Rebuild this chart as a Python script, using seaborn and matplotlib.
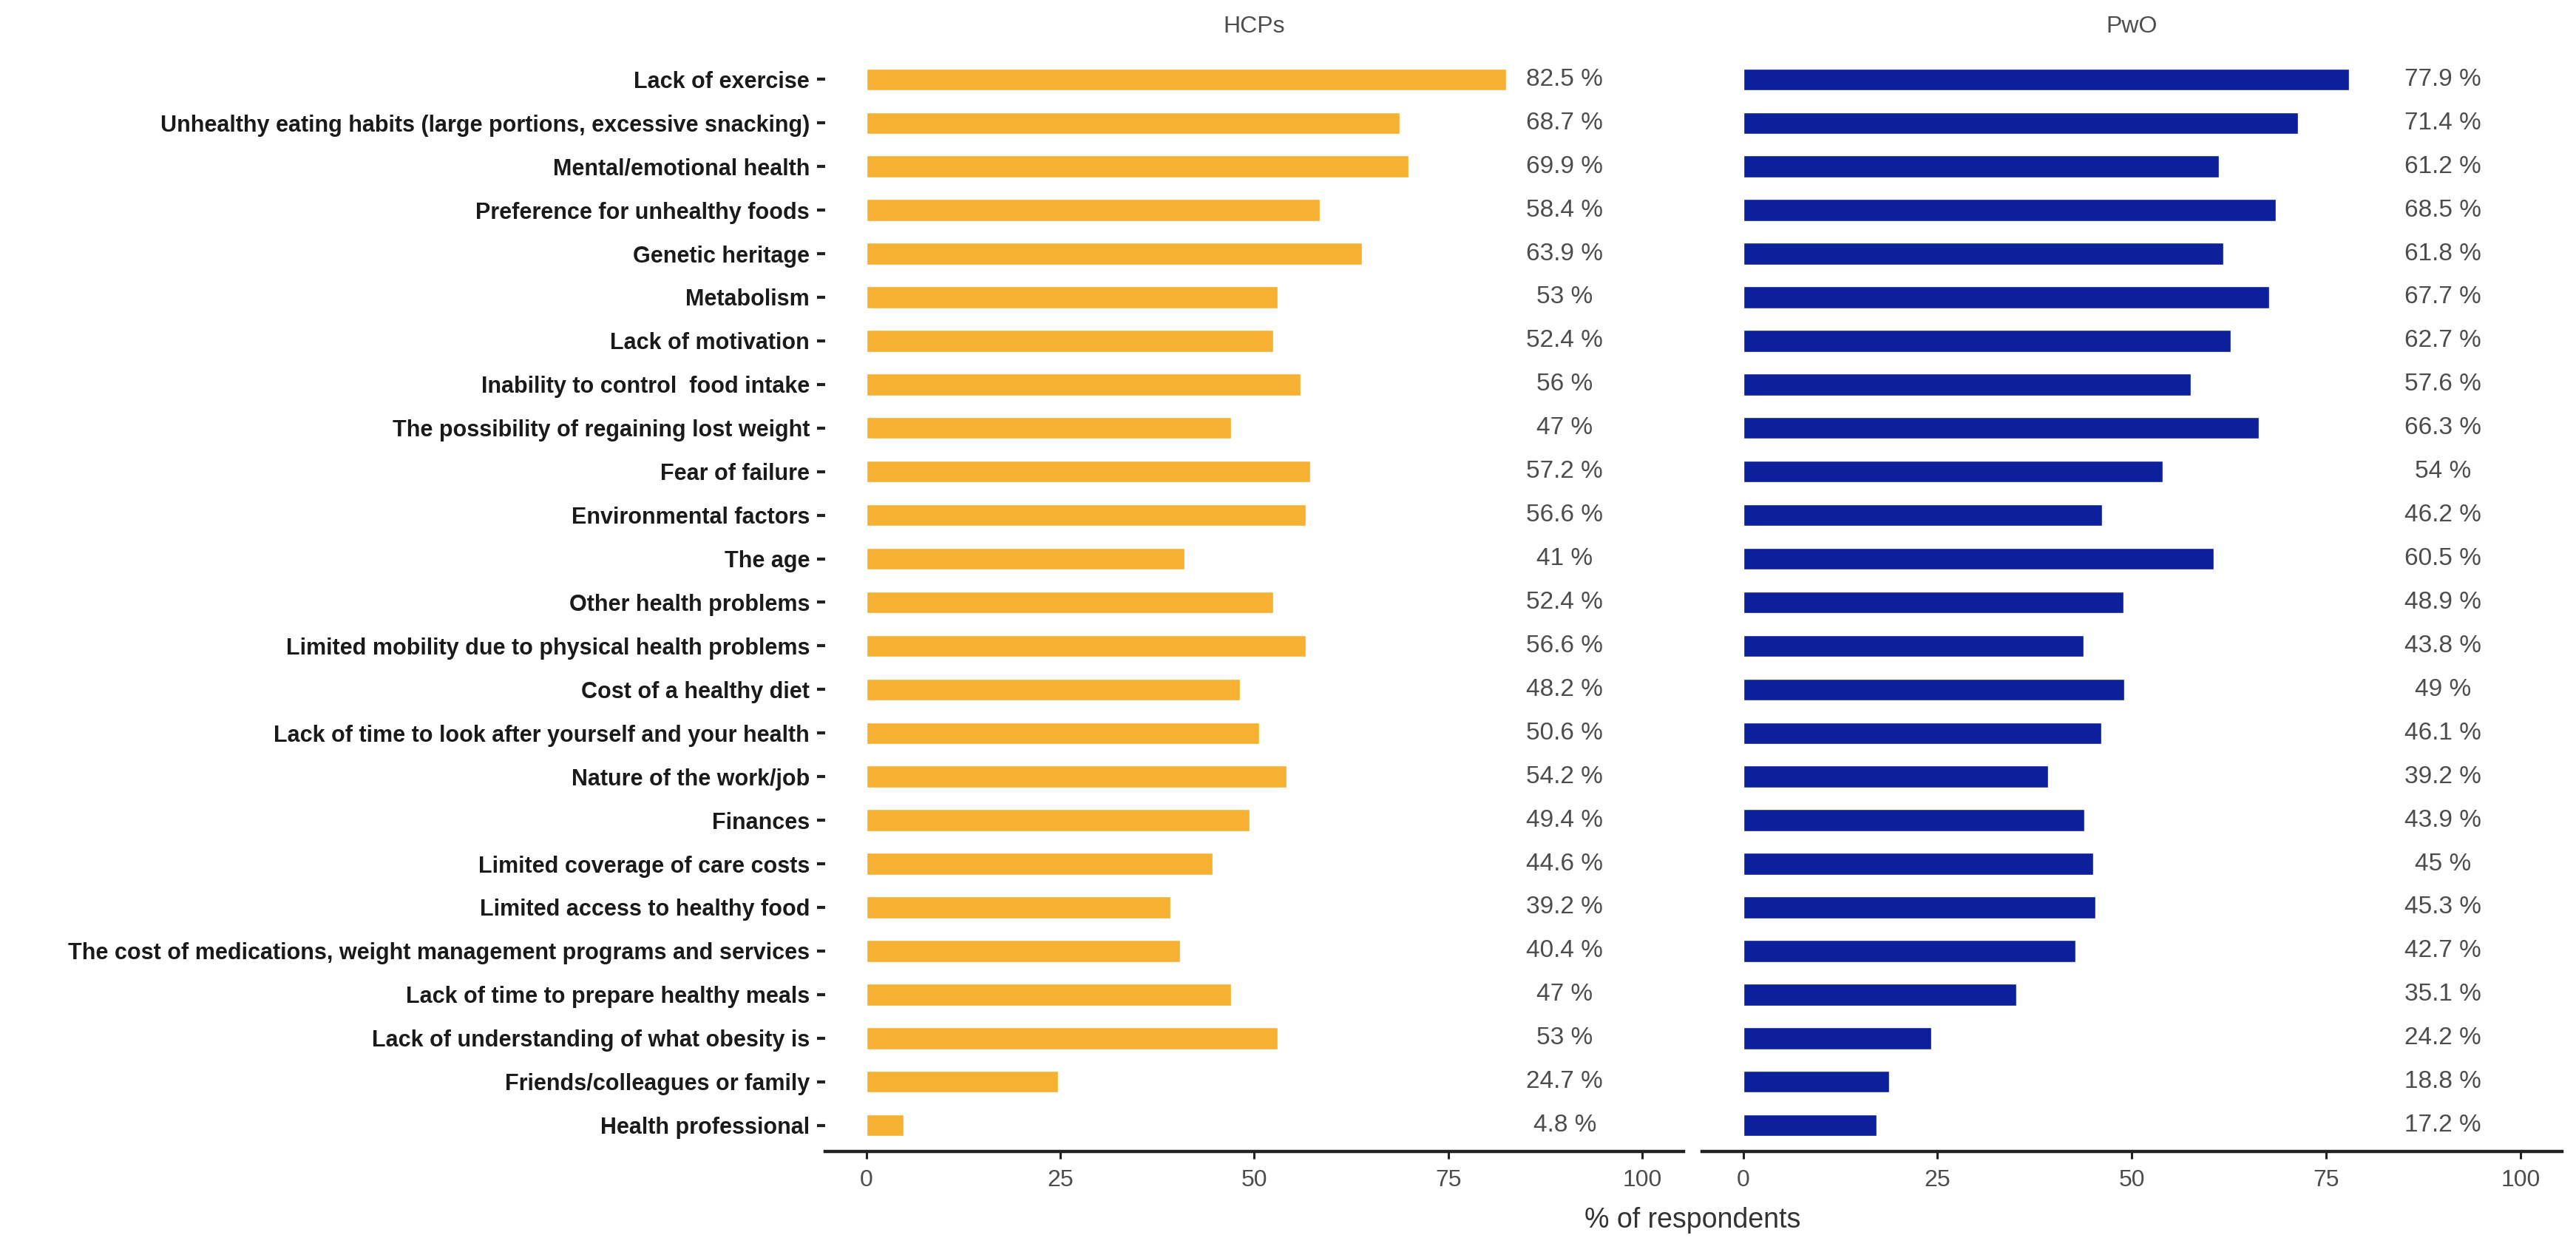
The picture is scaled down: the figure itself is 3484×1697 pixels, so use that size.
import matplotlib
matplotlib.use("Agg")
import matplotlib.pyplot as plt
from matplotlib import font_manager
import seaborn as sns
import pandas as pd

categories = [
    "Lack of exercise",
    "Unhealthy eating habits (large portions, excessive snacking)",
    "Mental/emotional health",
    "Preference for unhealthy foods",
    "Genetic heritage",
    "Metabolism",
    "Lack of motivation",
    "Inability to control  food intake",
    "The possibility of regaining lost weight",
    "Fear of failure",
    "Environmental factors",
    "The age",
    "Other health problems",
    "Limited mobility due to physical health problems",
    "Cost of a healthy diet",
    "Lack of time to look after yourself and your health",
    "Nature of the work/job",
    "Finances",
    "Limited coverage of care costs",
    "Limited access to healthy food",
    "The cost of medications, weight management programs and services",
    "Lack of time to prepare healthy meals",
    "Lack of understanding of what obesity is",
    "Friends/colleagues or family",
    "Health professional",
]
hcps = [82.5, 68.7, 69.9, 58.4, 63.9, 53, 52.4, 56, 47, 57.2, 56.6, 41, 52.4,
        56.6, 48.2, 50.6, 54.2, 49.4, 44.6, 39.2, 40.4, 47, 53, 24.7, 4.8]
pwo = [77.9, 71.4, 61.2, 68.5, 61.8, 67.7, 62.7, 57.6, 66.3, 54, 46.2, 60.5, 48.9,
       43.8, 49, 46.1, 39.2, 43.9, 45, 45.3, 42.7, 35.1, 24.2, 18.8, 17.2]
panel_titles = ["HCPs", "PwO"]
xticks = [0, 25, 50, 75, 100]
x_label = "% of respondents"

sns.set_theme(style="white")
names = {f.name for f in font_manager.fontManager.ttflist}
narrow = "Liberation Sans Narrow" if "Liberation Sans Narrow" in names else "Liberation Sans"
plt.rcParams["font.family"] = ["Liberation Sans", "DejaVu Sans"]

df = pd.DataFrame({"cat": categories, "HCPs": hcps, "PwO": pwo})

fig = plt.figure(figsize=(34.84, 16.97), dpi=100)
bottom, top = 0.0825, 0.9576
ax1 = fig.add_axes([0.3203, bottom, 0.6535 - 0.3203, top - bottom])
ax2 = fig.add_axes([0.6607, bottom, 0.9945 - 0.6607, top - bottom])

colors = ["#F6B132", "#0B209A"]
for ax, col, color, title in zip([ax1, ax2], ["HCPs", "PwO"], colors, panel_titles):
    sns.barplot(data=df, y="cat", x=col, ax=ax, color=color, width=0.5,
                orient="h", saturation=1)
    for i, v in enumerate(df[col]):
        ax.text(90, i, f"{v:g} %", ha="center", va="center", fontsize=24,
                color="#4D4D4D", family=[narrow, "DejaVu Sans"])
    ax.set_xlim(-5.3, 105.3)
    ax.set_ylim(len(categories) - 0.4, -0.6)
    ax.set_xticks(xticks)
    ax.set_xticklabels([str(t) for t in xticks], fontsize=23, color="#4D4D4D",
                       family=[narrow, "DejaVu Sans"])
    ax.set_xlabel("")
    ax.set_ylabel("")
    for s in ["top", "right", "left"]:
        ax.spines[s].set_visible(False)
    ax.spines["bottom"].set_linewidth(3.2)
    ax.spines["bottom"].set_color("#222222")
    ax.tick_params(axis="x", bottom=True, length=7, width=2.2, color="#222222", pad=10)
    ax.set_title(title, fontsize=23, color="#4D4D4D", pad=20,
                 family=[narrow, "DejaVu Sans"])

ax1.tick_params(axis="y", left=True, length=8, width=3, color="#222222", pad=7)
for lab in ax1.get_yticklabels():
    lab.set_fontsize(22)
    lab.set_fontweight("bold")
    lab.set_color("#1A1A1A")
    lab.set_family([narrow, "DejaVu Sans"])
ax2.set_yticks([])

fig.text(0.657, 1 - 1650 / 1697, x_label, ha="center", va="center", fontsize=27,
         color="#333333", family=[narrow, "DejaVu Sans"])

fig.savefig("out.png", dpi=100)
